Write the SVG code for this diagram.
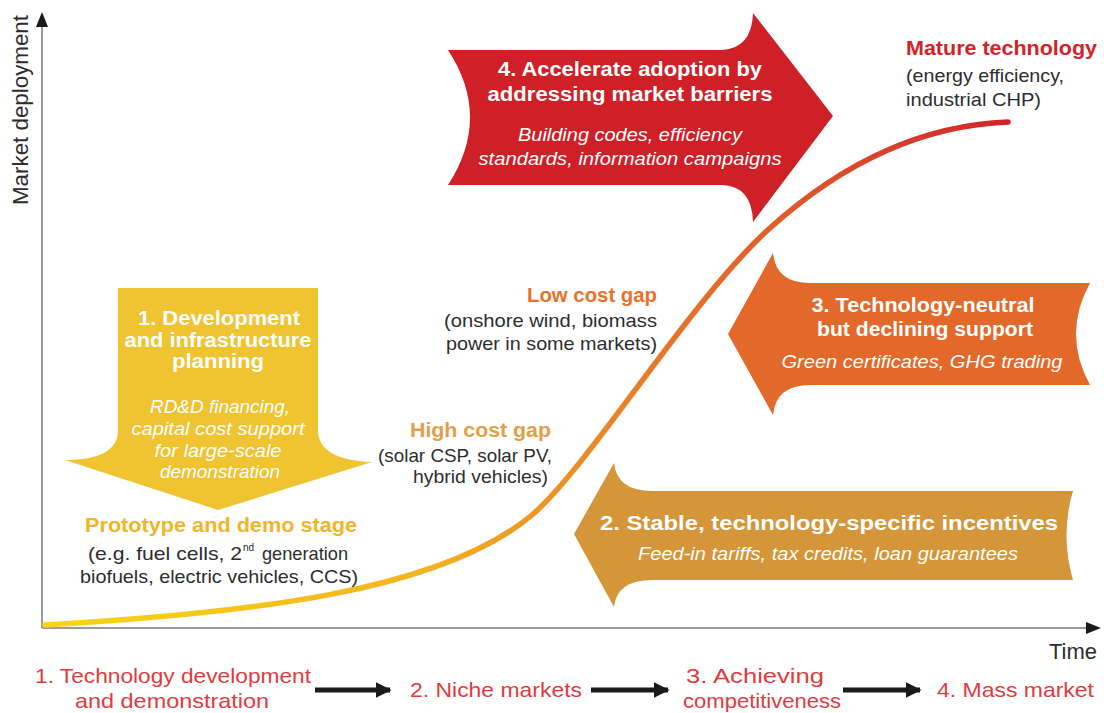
<svg xmlns="http://www.w3.org/2000/svg" width="1104" height="713" viewBox="0 0 1104 713">
<style>
text{font-family:"Liberation Sans",Arial,sans-serif}
.hb{font-weight:bold;font-size:20px;fill:#fff;text-anchor:middle}
.it{font-style:italic;font-size:19px;fill:#fff;text-anchor:middle}
.body{font-size:19px;fill:#2d2d2d}
.sup{font-size:10px;fill:#2d2d2d}
.lbl{font-weight:bold;font-size:20px}
.stage{font-size:21px;fill:#e23a40}
.axis{stroke:#9b9b9b;stroke-width:2;fill:none}
.flow{stroke:#1a1a1a;stroke-width:5;fill:none}
</style>
<defs>
<linearGradient id="sgrad" gradientUnits="userSpaceOnUse" x1="45" y1="0" x2="1008" y2="0">
<stop offset="0" stop-color="#f9d616"/>
<stop offset="0.4" stop-color="#f3b21e"/>
<stop offset="0.56" stop-color="#ec8a26"/>
<stop offset="0.72" stop-color="#e3652a"/>
<stop offset="1" stop-color="#d2232a"/>
</linearGradient>
<marker id="ah" viewBox="0 0 10 10" refX="9" refY="5" markerWidth="3.2" markerHeight="3.2" orient="auto" markerUnits="strokeWidth">
<path d="M0,0 L10,5 L0,10 Z" fill="#1a1a1a"/>
</marker>
</defs>

<g id="axes">
<line class="axis" x1="42" y1="628" x2="42" y2="22"/>
<path d="M42,12 L36,27 L48,27 Z" fill="#1a1a1a"/>
<line class="axis" x1="42" y1="628" x2="1090" y2="628"/>
<path d="M1101,628 L1086,622 L1086,634 Z" fill="#1a1a1a"/>
<text x="28" y="110" font-size="22" fill="#2d2d2d" text-anchor="middle" textLength="190" lengthAdjust="spacingAndGlyphs" transform="rotate(-90 28 110)">Market deployment</text>
<text x="1049" y="659" font-size="22" fill="#2d2d2d" textLength="48" lengthAdjust="spacingAndGlyphs">Time</text>
</g>

<g id="s-curve">
<path d="M45,625 C250,613 440,592 532,515 C590,465 690,300 770,228 C850,156 930,125 1008,122" fill="none" stroke="url(#sgrad)" stroke-width="5.5" stroke-linecap="round"/>
</g>

<g id="node-arrow4">
<path d="M448,50 L722,50 Q752,48 753,13 L833,116 L753,222 Q752,186 722,185 L448,185 Q492,117 448,50 Z" fill="#cf1f27"/>
<text class="hb" x="630" y="76" textLength="264" lengthAdjust="spacingAndGlyphs">4. Accelerate adoption by</text>
<text class="hb" x="630" y="101" textLength="285" lengthAdjust="spacingAndGlyphs">addressing market barriers</text>
<text class="it" x="630" y="141" textLength="224" lengthAdjust="spacingAndGlyphs">Building codes, efficiency</text>
<text class="it" x="630" y="165" textLength="303" lengthAdjust="spacingAndGlyphs">standards, information campaigns</text>
</g>

<g id="node-mature">
<text class="lbl" x="906" y="55" fill="#d2232a" textLength="191" lengthAdjust="spacingAndGlyphs">Mature technology</text>
<text class="body" x="906" y="82" textLength="158" lengthAdjust="spacingAndGlyphs">(energy efficiency,</text>
<text class="body" x="906" y="106" textLength="135" lengthAdjust="spacingAndGlyphs">industrial CHP)</text>
</g>

<g id="node-arrow1">
<path d="M118,288 L318,288 L318,430 Q318,460 372,462 L218,510 L65,460 Q118,460 118,430 Z" fill="#f0c330"/>
<text class="hb" x="219" y="325" textLength="162" lengthAdjust="spacingAndGlyphs">1. Development</text>
<text class="hb" x="218" y="347" textLength="187" lengthAdjust="spacingAndGlyphs">and infrastructure</text>
<text class="hb" x="218" y="368" textLength="92" lengthAdjust="spacingAndGlyphs">planning</text>
<text class="it" x="220" y="413" textLength="140" lengthAdjust="spacingAndGlyphs">RD&amp;D financing,</text>
<text class="it" x="218" y="435" textLength="173" lengthAdjust="spacingAndGlyphs">capital cost support</text>
<text class="it" x="218" y="457" textLength="127" lengthAdjust="spacingAndGlyphs">for large-scale</text>
<text class="it" x="220" y="478" textLength="120" lengthAdjust="spacingAndGlyphs">demonstration</text>
</g>

<g id="node-prototype">
<text class="lbl" x="221" y="532" fill="#f0b52a" text-anchor="middle" textLength="272" lengthAdjust="spacingAndGlyphs">Prototype and demo stage</text>
<text class="body" x="88" y="560" textLength="154" lengthAdjust="spacingAndGlyphs">(e.g. fuel cells, 2</text>
<text class="sup" x="243" y="551">nd</text>
<text class="body" x="262" y="560" textLength="86" lengthAdjust="spacingAndGlyphs">generation</text>
<text class="body" x="219" y="583" text-anchor="middle" textLength="278" lengthAdjust="spacingAndGlyphs">biofuels, electric vehicles, CCS)</text>
</g>

<g id="node-low-cost">
<text class="lbl" x="657" y="302" fill="#e8722a" text-anchor="end" textLength="130" lengthAdjust="spacingAndGlyphs">Low cost gap</text>
<text class="body" x="657" y="327" text-anchor="end" textLength="213" lengthAdjust="spacingAndGlyphs">(onshore wind, biomass</text>
<text class="body" x="657" y="350" text-anchor="end" textLength="211" lengthAdjust="spacingAndGlyphs">power in some markets)</text>
</g>

<g id="node-high-cost">
<text class="lbl" x="551" y="437" fill="#e0a048" text-anchor="end" textLength="141" lengthAdjust="spacingAndGlyphs">High cost gap</text>
<text class="body" x="552" y="462" text-anchor="end" textLength="174" lengthAdjust="spacingAndGlyphs">(solar CSP, solar PV,</text>
<text class="body" x="548" y="483" text-anchor="end" textLength="135" lengthAdjust="spacingAndGlyphs">hybrid vehicles)</text>
</g>

<g id="node-arrow3">
<path d="M728,334 L773,253 Q776,283 810,283 L1090,283 Q1062,334 1090,385 L810,385 Q776,385 773,415 Z" fill="#e2692a"/>
<text class="hb" x="923" y="312" textLength="223" lengthAdjust="spacingAndGlyphs">3. Technology-neutral</text>
<text class="hb" x="925" y="336" textLength="216" lengthAdjust="spacingAndGlyphs">but declining support</text>
<text class="it" x="922" y="368" textLength="281" lengthAdjust="spacingAndGlyphs">Green certificates, GHG trading</text>
</g>

<g id="node-arrow2">
<path d="M574,534 L614,463 Q617,491 652,491 L1073,491 Q1060,535 1073,580 L652,580 Q617,580 614,607 Z" fill="#d59539"/>
<text class="hb" x="829" y="530" textLength="458" lengthAdjust="spacingAndGlyphs">2. Stable, technology-specific incentives</text>
<text class="it" x="828" y="560" textLength="380" lengthAdjust="spacingAndGlyphs">Feed-in tariffs, tax credits, loan guarantees</text>
</g>

<g id="stage-1"><text class="stage" x="35" y="683" textLength="276" lengthAdjust="spacingAndGlyphs">1. Technology development</text>
<text class="stage" x="75" y="708" textLength="194" lengthAdjust="spacingAndGlyphs">and demonstration</text></g>
<g id="stage-2"><text class="stage" x="410" y="697" textLength="172" lengthAdjust="spacingAndGlyphs">2. Niche markets</text></g>
<g id="stage-3"><text class="stage" x="755" y="683" text-anchor="middle" textLength="138" lengthAdjust="spacingAndGlyphs">3. Achieving</text>
<text class="stage" x="762" y="708" text-anchor="middle" textLength="158" lengthAdjust="spacingAndGlyphs">competitiveness</text></g>
<g id="stage-4"><text class="stage" x="937" y="697" textLength="157" lengthAdjust="spacingAndGlyphs">4. Mass market</text></g>

<g id="connectors">
<line class="flow" x1="315" y1="690" x2="390" y2="690" marker-end="url(#ah)"/>
<line class="flow" x1="591" y1="690" x2="668" y2="690" marker-end="url(#ah)"/>
<line class="flow" x1="843" y1="690" x2="920" y2="690" marker-end="url(#ah)"/>
</g>
</svg>
